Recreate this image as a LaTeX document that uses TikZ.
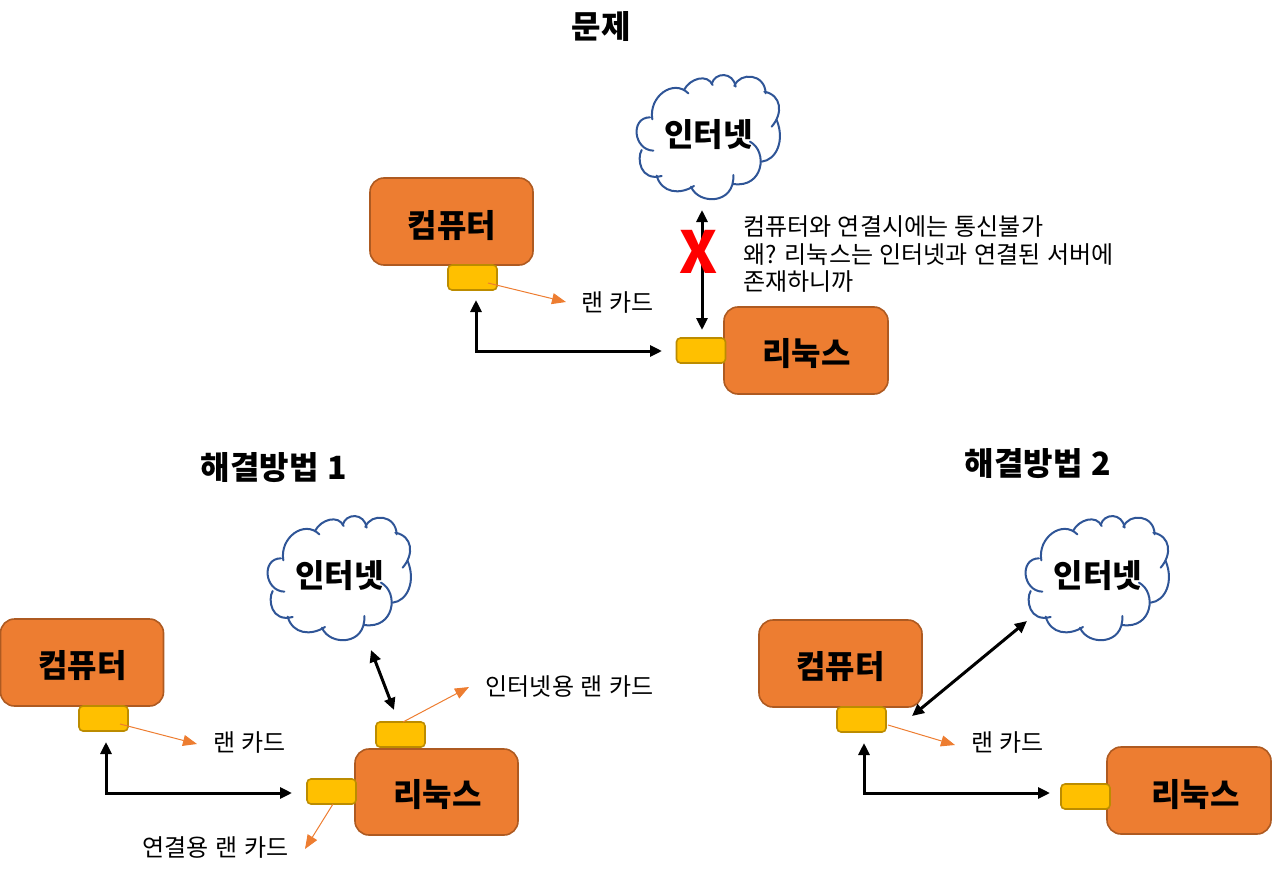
\documentclass[tikz,border=0pt]{standalone}
\usepackage{fontspec}
\setmainfont[WordSpace=1.2]{Noto Sans CJK KR}
\usetikzlibrary{arrows.meta}
\definecolor{boxfill}{HTML}{ED7D31}
\definecolor{boxline}{HTML}{AE5A21}
\definecolor{cardfill}{HTML}{FFC000}
\definecolor{cardline}{HTML}{BC8C00}
\definecolor{cloudline}{HTML}{2F5597}
\tikzset{
  x=1pt,y=-1pt,
  machine/.style={draw=boxline,fill=boxfill,line width=1.6pt,rounded corners=14pt,inner sep=0pt},
  lancard/.style={draw=cardline,fill=cardfill,line width=1.6pt,rounded corners=4pt,minimum width=49pt,minimum height=25pt,inner sep=0pt},
  heading/.style={inner sep=0pt,font=\fontsize{32}{38}\bfseries\selectfont},
  label/.style={inner sep=0pt,font=\fontsize{24}{28}\selectfont},
  link/.style={line width=3pt,{Triangle[length=12pt,width=11pt]}-{Triangle[length=12pt,width=11pt]}},
  leader/.style={draw=boxfill,line width=1pt,-{Triangle[length=14pt,width=11pt]}},
  cloudarc/.style={draw=cloudline,line width=2pt,line cap=round},
}
% #1 x offset, #2 y offset, #3 node name
\newcommand{\mycloud}[3]{%
  \begin{scope}[shift={(#1,#2)},x=0.3333pt,y=-0.3333pt]
    \fill[white] (97,178) .. controls (85,110) and (160,55) .. (195,90)
      .. controls (210,55) and (262,40) .. (278,75)
      .. controls (285,35) and (340,35) .. (345,78)
      .. controls (360,35) and (435,40) .. (435,97)
      .. controls (485,105) and (490,160) .. (470,180)
      .. controls (495,240) and (470,300) .. (425,305)
      .. controls (430,385) and (380,385) .. (340,372)
      .. controls (345,435) and (235,435) .. (213,380)
      .. controls (180,405) and (125,400) .. (110,347)
      .. controls (60,365) and (50,295) .. (68,270)
      .. controls (40,270) and (30,172) .. (97,178) -- cycle;
    \draw[cloudarc] (97,178) .. controls (85,110) and (160,55) .. (205,100);
    \draw[cloudarc] (192,90) .. controls (210,55) and (262,40) .. (278,75);
    \draw[cloudarc] (275,72) .. controls (285,35) and (340,35) .. (347,80);
    \draw[cloudarc] (343,78) .. controls (360,35) and (435,40) .. (437,100);
    \draw[cloudarc] (433,95) .. controls (485,105) and (490,160) .. (455,200);
    \draw[cloudarc] (470,180) .. controls (495,240) and (470,300) .. (425,305);
    \draw[cloudarc] (390,245) .. controls (445,275) and (430,385) .. (340,372);
    \draw[cloudarc] (340,345) .. controls (345,435) and (235,435) .. (213,380);
    \draw[cloudarc] (222,378) .. controls (180,405) and (125,400) .. (110,347);
    \draw[cloudarc] (125,348) .. controls (60,365) and (50,295) .. (65,270);
    \draw[cloudarc] (100,272) .. controls (40,270) and (30,172) .. (90,172);
  \end{scope}
  \coordinate (#3) at (#1+70,#2+75);
}
\begin{document}
\begin{tikzpicture}
\useasboundingbox (0,0) rectangle (1272,875);

% ---- 문제
\node[heading] (titleA) at (601,27) {문제};
\mycloud{620}{60}{cloudA}
\node[heading] (netA) at (708.5,135) {인터넷};
\node[machine,minimum width=163pt,minimum height=87pt] (pcA) at (451.5,221.5) {};
\node[heading] (pcAt) at (452,226) {컴퓨터};
\node[machine,minimum width=164pt,minimum height=87pt] (lxA) at (806,350.5) {};
\node[heading] (lxAt) at (806.5,354) {리눅스};
\node[lancard] (cardA) at (472.5,277.5) {};
\node[lancard] (cardAl) at (701,350.5) {};
\coordinate (a1) at (476,300);
\coordinate (a2) at (476,351);
\coordinate (a3) at (662,351);
\draw[link] (a1) -- (a2) -- (a3);
\coordinate (a4) at (702,210);
\coordinate (a5) at (702,330);
\draw[link] (a4) -- (a5);
\node[inner sep=0pt,text=red,font=\fontsize{58}{58}\bfseries\selectfont] (xmark) at (698.5,252) {X};
\coordinate (a6) at (488,283);
\coordinate (a7) at (566,302);
\draw[leader] (a6) -- (a7);
\node[label] (lanA) at (617.5,302) {랜 카드};
\node[label,anchor=west,align=left,font=\fontsize{24}{27.5}\selectfont] (noteA) at (743,254.5) {컴퓨터와 연결시에는 통신불가\\왜? 리눅스는 인터넷과 연결된 서버에\\존재하니까};

% ---- 해결방법 1
\node[heading] (titleB) at (274,468) {해결방법 1};
\mycloud{251}{501}{cloudB}
\node[heading] (netB) at (339.5,576) {인터넷};
\node[machine,minimum width=163pt,minimum height=87pt] (pcB) at (82,662.5) {};
\node[heading] (pcBt) at (82.5,666) {컴퓨터};
\node[machine,minimum width=163pt,minimum height=86pt] (lxB) at (436.5,792) {};
\node[heading] (lxBt) at (437.5,795) {리눅스};
\node[lancard] (cardB) at (103.5,718.5) {};
\node[lancard] (cardBl) at (331.5,791.5) {};
\node[lancard] (cardBt) at (400.5,734.5) {};
\coordinate (b1) at (106,742);
\coordinate (b2) at (106,793);
\coordinate (b3) at (292,793);
\draw[link] (b1) -- (b2) -- (b3);
\coordinate (b4) at (371,650);
\coordinate (b5) at (394,710);
\draw[link] (b4) -- (b5);
\coordinate (b6) at (120,724);
\coordinate (b7) at (197,744);
\draw[leader] (b6) -- (b7);
\coordinate (b8) at (403,722);
\coordinate (b9) at (469,687);
\draw[leader] (b8) -- (b9);
\coordinate (b10) at (333,804);
\coordinate (b11) at (305,849);
\draw[leader] (b10) -- (b11);
\node[label] (lanB) at (249.5,742) {랜 카드};
\node[label] (lanBt) at (569.5,687) {인터넷용 랜 카드};
\node[label] (lanBl) at (215.5,847) {연결용 랜 카드};

% ---- 해결방법 2
\node[heading] (titleC) at (1038,464) {해결방법 2};
\mycloud{1009}{501}{cloudC}
\node[heading] (netC) at (1098,576) {인터넷};
\node[machine,minimum width=163pt,minimum height=87pt] (pcC) at (840.5,663.5) {};
\node[heading] (pcCt) at (840.5,667) {컴퓨터};
\node[machine,minimum width=164pt,minimum height=87pt] (lxC) at (1189,790.5) {};
\node[heading] (lxCt) at (1195.5,795) {리눅스};
\node[lancard] (cardC) at (861.5,719.5) {};
\node[lancard] (cardCl) at (1085.5,796.5) {};
\coordinate (c1) at (864,743);
\coordinate (c2) at (864,793);
\coordinate (c3) at (1050,793);
\draw[link] (c1) -- (c2) -- (c3);
\coordinate (c4) at (912,716);
\coordinate (c5) at (1027,621);
\draw[link] (c4) -- (c5);
\coordinate (c6) at (888,725);
\coordinate (c7) at (955,745);
\draw[leader] (c6) -- (c7);
\node[label] (lanC) at (1007.5,742) {랜 카드};
\end{tikzpicture}
\end{document}
